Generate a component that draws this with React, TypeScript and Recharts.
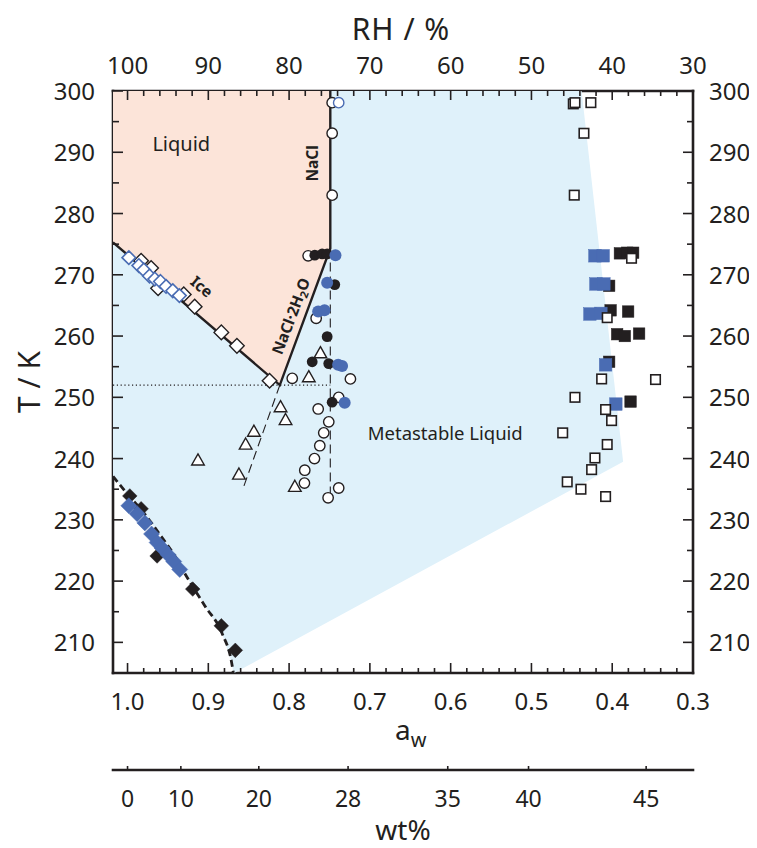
import React from 'react';
import { ComposedChart, Scatter, XAxis, YAxis } from 'recharts';

// ---------- data (a_w, T/K) ----------
const openCircles: [number, number][] = [
  [0.7467, 298.1], [0.7467, 293.1], [0.7467, 283.0], [0.7764, 273.1], [0.7665, 262.9],
  [0.7961, 253.1], [0.7241, 253.0], [0.7386, 250.0], [0.764, 248.1], [0.7509, 246.0],
  [0.7571, 244.2], [0.762, 242.1], [0.7686, 240.0], [0.7806, 238.1], [0.781, 236.0],
  [0.7386, 235.2], [0.7517, 233.6],
];
const openCirclesBlue: [number, number][] = [[0.7386, 298.1]];
const filledCircles: [number, number][] = [
  [0.7682, 273.2], [0.7591, 273.4], [0.7529, 273.4], [0.7435, 268.4], [0.7529, 259.9],
  [0.7714, 255.8], [0.7509, 255.5], [0.7467, 249.2],
];
const filledCirclesBlue: [number, number][] = [
  [0.7426, 273.2], [0.7529, 268.7], [0.764, 264.0], [0.7562, 264.2], [0.7393, 255.3],
  [0.7344, 255.1], [0.7312, 249.1],
];
const openTriangles: [number, number][] = [
  [0.7612, 257.2], [0.7756, 253.3], [0.8106, 248.4], [0.8044, 246.3], [0.8436, 244.4],
  [0.8538, 242.3], [0.8621, 237.4], [0.7929, 235.4], [0.9128, 239.7],
];
const openDiamonds: [number, number][] = [
  [0.9832, 272.3], [0.9708, 271.1], [0.9622, 267.8], [0.9304, 266.8], [0.9169, 264.8],
  [0.8839, 260.6], [0.8646, 258.4], [0.8242, 252.7],
];
const openDiamondsBlue: [number, number][] = [
  [0.9984, 272.8], [0.986, 271.5], [0.9799, 270.8], [0.9728, 269.8], [0.9663, 269.3],
  [0.9592, 268.9], [0.9523, 268.1], [0.944, 267.4], [0.9358, 266.6],
];
const filledDiamonds: [number, number][] = [
  [0.9972, 233.9], [0.9832, 231.8], [0.9634, 224.1], [0.9193, 218.7], [0.8839, 212.7],
  [0.8666, 208.7],
];
const filledDiamondsBlue: [number, number][] = [
  [0.9984, 232.3], [0.9881, 231.0], [0.9786, 229.5], [0.9703, 227.7], [0.9634, 226.3],
  [0.9573, 225.4], [0.9498, 224.3], [0.9428, 223.2], [0.9354, 221.9],
];
const openSquares: [number, number][] = [
  [0.4482, 297.9], [0.4461, 298.1], [0.4264, 298.1], [0.435, 293.1], [0.447, 283.0],
  [0.3761, 272.7], [0.4062, 263.0], [0.4131, 253.0], [0.3464, 252.9], [0.4461, 250.0],
  [0.4082, 248.0], [0.4008, 246.2], [0.4613, 244.2], [0.4062, 242.3], [0.4214, 240.1],
  [0.4255, 238.2], [0.4557, 236.2], [0.4387, 235.0], [0.4082, 233.8],
];
const filledSquares: [number, number][] = [
  [0.3905, 273.5], [0.3815, 273.6], [0.3741, 273.6], [0.4038, 268.2], [0.402, 264.2],
  [0.3803, 264.0], [0.3939, 260.3], [0.3844, 260.0], [0.3667, 260.4], [0.4038, 255.8],
  [0.3773, 249.3],
];
const filledSquaresBlue: [number, number][] = [
  [0.4214, 273.1], [0.4112, 273.1], [0.4202, 268.5], [0.4103, 268.5], [0.4276, 263.6],
  [0.414, 263.7], [0.4082, 255.3], [0.3955, 248.9],
];

// phase boundaries and regions
const liquidRegion: [number, number][] = [
  [1.018, 300], [0.749, 300], [0.749, 274.3], [0.8115, 252.0], [1.018, 275.3],
];
const homFreezing: [number, number][] = [
  [1.018, 237.1], [1.0, 234.2], [0.982, 231.5], [0.96, 227.6], [0.94, 223.8],
  [0.928, 221.0], [0.904, 215.9], [0.883, 211.5], [0.871, 206.6], [0.869, 205],
];
const metastableRegion: [number, number][] = [
  [1.018, 300], [0.4379, 300], [0.3865, 239.5], [0.868, 205],
  ...homFreezing.slice().reverse(),
];
const solidLines: [number, number][] = [
  [1.018, 275.3], [0.8115, 252.0], [0.749, 274.3], [0.749, 300],
];
const eutecticDotted: [number, number][] = [[1.018, 252.0], [0.749, 252.0]];
const naclDashed: [number, number][] = [[0.749, 274.3], [0.749, 234.4]];
const hydrateDashed: [number, number][] = [[0.8115, 252.0], [0.8576, 234.9]];

// annotations (anchor in data units)
const notes = [
  { key: 'liq', text: 'Liquid', aw: 0.9335, T: 291.5 },
  { key: 'nacl', text: 'NaCl', aw: 0.7714, T: 288.2 },
  { key: 'ice', text: 'Ice', aw: 0.9078, T: 268.1 },
  { key: 'hyd', text: 'NaCl·2H₂O', aw: 0.7982, T: 263.3 },
  { key: 'meta', text: 'Metastable Liquid', aw: 0.6067, T: 244.2 },
];

// ticks
const awTicks = Array.from({ length: 36 }, (_, i) => +(1 - i * 0.02).toFixed(2));
const tTicks = Array.from({ length: 20 }, (_, i) => 205 + i * 5);
const wtPositions = [1.0, 0.934, 0.8375, 0.727, 0.6036, 0.5036, 0.358];
const wtLabels = ['0', '10', '20', '28', '35', '40', '45'];

// ---------- styles ----------
const INK = '#231f20';
const BLUE = '#4a6cb3';
const PINK = '#fce4d9';
const SKY = '#dff1fa';
const FONT = '"Noto Sans", "Open Sans", sans-serif';
const TICK_FS = 24;
const AXIS_LINE = { stroke: INK, strokeWidth: 2.6, strokeLinecap: 'square' as const };

const pts = (arr: [number, number][]) => arr.map(([aw, T]) => ({ aw, T }));
const isMajorAw = (v: number) => Math.abs(v * 10 - Math.round(v * 10)) < 1e-6;

// ---------- tick renderers ----------
const BottomTick = (p: any) => {
  const v = p.payload.value;
  const major = isMajorAw(v);
  return (
    <g>
      <line x1={p.x} x2={p.x} y1={p.y} y2={p.y - (major ? 10 : 5)} stroke={INK} strokeWidth={1.6} />
      {major && (
        <text x={p.x} y={p.y + 37} textAnchor="middle" fontSize={TICK_FS} fill={INK} fontFamily={FONT}>
          {v.toFixed(1)}
        </text>
      )}
    </g>
  );
};
const TopTick = (p: any) => {
  const v = p.payload.value;
  const major = isMajorAw(v);
  return (
    <g>
      <line x1={p.x} x2={p.x} y1={p.y} y2={p.y + (major ? 9 : 5)} stroke={INK} strokeWidth={1.6} />
      {major && (
        <text x={p.x} y={p.y - 17} textAnchor="middle" fontSize={TICK_FS} fill={INK} fontFamily={FONT}>
          {Math.round(v * 100)}
        </text>
      )}
    </g>
  );
};
const LeftTick = (p: any) => {
  const v = p.payload.value;
  const major = v % 10 === 0;
  return (
    <g>
      <line x1={p.x} x2={p.x + (major ? 10 : 6)} y1={p.y} y2={p.y} stroke={INK} strokeWidth={1.6} />
      {major && (
        <text x={p.x - 18} y={p.y + 9} textAnchor="end" fontSize={TICK_FS} fill={INK} fontFamily={FONT}>
          {v}
        </text>
      )}
    </g>
  );
};
const RightTick = (p: any) => {
  const v = p.payload.value;
  const major = v % 10 === 0;
  return (
    <g>
      <line x1={p.x} x2={p.x - (major ? 10 : 6)} y1={p.y} y2={p.y} stroke={INK} strokeWidth={1.6} />
      {major && (
        <text x={p.x + 16} y={p.y + 9} textAnchor="start" fontSize={TICK_FS} fill={INK} fontFamily={FONT}>
          {v}
        </text>
      )}
    </g>
  );
};
const WtTick = (p: any) => {
  const v = p.payload.value;
  const idx = wtPositions.findIndex((w) => Math.abs(w - v) < 1e-6);
  return (
    <g>
      <line x1={p.x} x2={p.x} y1={p.y} y2={p.y - 4} stroke={INK} strokeWidth={1.6} />
      <text x={p.x} y={p.y + 37} textAnchor="middle" fontSize={23} fill={INK} fontFamily={FONT}>
        {idx >= 0 ? wtLabels[idx] : ''}
      </text>
    </g>
  );
};

// ---------- axis titles ----------
const vb = (p: any) => p.viewBox || { x: 0, y: 0, width: 0, height: 0 };
const AwTitle = (p: any) => {
  const b = vb(p);
  return (
    <text x={b.x + b.width / 2 - 8} y={b.y + 67} fontSize={28} fill={INK} fontFamily={FONT}>
      a<tspan fontSize={20} dy={7}>w</tspan>
    </text>
  );
};
const WtTitle = (p: any) => {
  const b = vb(p);
  return (
    <text x={b.x + b.width / 2} y={b.y + 70} textAnchor="middle" fontSize={28} fill={INK} fontFamily={FONT}>
      wt%
    </text>
  );
};
const RhTitle = (p: any) => {
  const b = vb(p);
  return (
    <text x={b.x + b.width / 2 - 2} y={b.y - 1} textAnchor="middle" fontSize={30} fill={INK} fontFamily={FONT} letterSpacing={1}>
      RH / %
    </text>
  );
};
const TTitle = (p: any) => {
  const b = vb(p);
  const cx = b.x - 10;
  const cy = b.y + b.height / 2;
  return (
    <text x={cx} y={cy} textAnchor="middle" dominantBaseline="central" fontSize={30} fill={INK} fontFamily={FONT} transform={`rotate(-90 ${cx} ${cy})`}>
      T / K
    </text>
  );
};

// ---------- marker shapes ----------
const hidden = () => <g />;
const polygon = (fill: string) => (lp: any) => {
  const ps = (lp.points || []) as { x: number; y: number }[];
  const d = ps.map((q, i) => `${i ? 'L' : 'M'}${q.x},${q.y}`).join(' ') + ' Z';
  return <path d={d} fill={fill} stroke="none" />;
};
const openCircle = (stroke: string) => (p: any) => (
  <circle cx={p.cx} cy={p.cy} r={5.2} fill="#fff" stroke={stroke} strokeWidth={1.4} />
);
const dot = (fill: string, r: number) => (p: any) => <circle cx={p.cx} cy={p.cy} r={r} fill={fill} />;
const openTriangle = (p: any) => (
  <path
    d={`M${p.cx},${p.cy - 6.5} L${p.cx + 6.3},${p.cy + 4.6} L${p.cx - 6.3},${p.cy + 4.6} Z`}
    fill="#fff"
    stroke={INK}
    strokeWidth={1.4}
  />
);
const square = (fill: string, stroke: string, s: number, sw: number) => (p: any) => (
  <rect x={p.cx - s / 2} y={p.cy - s / 2} width={s} height={s} fill={fill} stroke={stroke} strokeWidth={sw} />
);
const diamond = (fill: string, stroke: string, r: number, sw: number) => (p: any) => (
  <path
    d={`M${p.cx},${p.cy - r} L${p.cx + r},${p.cy} L${p.cx},${p.cy + r} L${p.cx - r},${p.cy} Z`}
    fill={fill}
    stroke={stroke}
    strokeWidth={sw}
  />
);
const noteShape = (key: string, text: string) => (p: any) => {
  const { cx, cy } = p;
  const common = { fill: INK, fontFamily: FONT, textAnchor: 'middle' as const, dominantBaseline: 'central' as const };
  if (key === 'liq') return <text x={cx} y={cy} fontSize={20} {...common}>{text}</text>;
  if (key === 'meta') return <text x={cx} y={cy} fontSize={18.5} {...common}>{text}</text>;
  if (key === 'nacl')
    return (
      <text x={cx} y={cy} fontSize={15.5} fontWeight="bold" transform={`rotate(-90 ${cx} ${cy})`} {...common}>
        {text}
      </text>
    );
  if (key === 'ice')
    return (
      <text x={cx} y={cy} fontSize={15.5} fontWeight="bold" transform={`rotate(40 ${cx} ${cy})`} {...common}>
        {text}
      </text>
    );
  return (
    <text x={cx} y={cy} fontSize={15.5} fontWeight="bold" transform={`rotate(-69 ${cx} ${cy})`} {...common}>
      NaCl·2H<tspan fontSize={11} dy={4}>2</tspan>
      <tspan dy={-4}>O</tspan>
    </text>
  );
};

const ids = { xAxisId: 'aw', yAxisId: 'L' };

export default function App() {
  return (
    <div style={{ width: 749, height: 840, marginBottom: -8 }}>
      <style>{'html,body{overflow:hidden}'}</style>
      <ComposedChart width={749} height={840} margin={{ top: 33, right: 9, bottom: 8, left: 30 }}>
        {/* regions */}
        <Scatter {...ids} data={pts(metastableRegion)} shape={hidden} line={polygon(SKY)} isAnimationActive={false} />
        <Scatter {...ids} data={pts(liquidRegion)} shape={hidden} line={polygon(PINK)} isAnimationActive={false} />
        {/* invisible anchors so the secondary axes get a domain */}
        <Scatter xAxisId="rh" yAxisId="R" data={pts(liquidRegion)} shape={hidden} isAnimationActive={false} />
        <Scatter xAxisId="wt" yAxisId="R" data={pts(liquidRegion)} shape={hidden} isAnimationActive={false} />
        {/* lines */}
        <Scatter {...ids} data={pts(eutecticDotted)} shape={hidden} line={{ stroke: INK, strokeWidth: 1.2, strokeDasharray: '1.2 2.6' }} isAnimationActive={false} />
        <Scatter {...ids} data={pts(naclDashed)} shape={hidden} line={{ stroke: INK, strokeWidth: 1.1, strokeDasharray: '9 5' }} isAnimationActive={false} />
        <Scatter {...ids} data={pts(hydrateDashed)} shape={hidden} line={{ stroke: INK, strokeWidth: 1.1, strokeDasharray: '9 5' }} isAnimationActive={false} />
        <Scatter {...ids} data={pts(homFreezing)} shape={hidden} lineJointType="monotoneX" line={{ stroke: INK, strokeWidth: 2.8, strokeDasharray: '7 4' }} isAnimationActive={false} />
        <Scatter {...ids} data={pts(solidLines)} shape={hidden} line={{ stroke: INK, strokeWidth: 2.4, strokeLinejoin: 'miter' }} isAnimationActive={false} />
        {/* markers */}
        <Scatter {...ids} data={pts(openDiamonds)} shape={diamond('#fff', INK, 7.3, 1.4)} isAnimationActive={false} />
        <Scatter {...ids} data={pts(openDiamondsBlue)} shape={diamond('#fff', BLUE, 6.8, 1.6)} isAnimationActive={false} />
        <Scatter {...ids} data={pts(filledDiamonds)} shape={diamond(INK, INK, 7.3, 0.5)} isAnimationActive={false} />
        <Scatter {...ids} data={pts(filledDiamondsBlue)} shape={diamond(BLUE, BLUE, 8, 0.5)} isAnimationActive={false} />
        <Scatter {...ids} data={pts(openCircles)} shape={openCircle(INK)} isAnimationActive={false} />
        <Scatter {...ids} data={pts(openCirclesBlue)} shape={openCircle(BLUE)} isAnimationActive={false} />
        <Scatter {...ids} data={pts(filledCircles)} shape={dot(INK, 5.4)} isAnimationActive={false} />
        <Scatter {...ids} data={pts(filledCirclesBlue)} shape={dot(BLUE, 6)} isAnimationActive={false} />
        <Scatter {...ids} data={pts(openTriangles)} shape={openTriangle} isAnimationActive={false} />
        <Scatter {...ids} data={pts(filledSquares)} shape={square(INK, INK, 11.5, 0.5)} isAnimationActive={false} />
        <Scatter {...ids} data={pts(filledSquaresBlue)} shape={square(BLUE, BLUE, 12.5, 0.5)} isAnimationActive={false} />
        <Scatter {...ids} data={pts(openSquares)} shape={square('#fff', INK, 9.5, 1.6)} isAnimationActive={false} />
        {/* annotations */}
        {notes.map((n) => (
          <Scatter key={n.key} {...ids} data={[{ aw: n.aw, T: n.T }]} shape={noteShape(n.key, n.text)} isAnimationActive={false} />
        ))}

        {/* axes */}
        <XAxis
          xAxisId="aw" dataKey="aw" type="number" orientation="bottom" height={97} reversed
          domain={[0.3, 1.018]} allowDataOverflow ticks={awTicks} interval={0}
          tickSize={0} tickMargin={0} tickLine={false} tick={BottomTick} axisLine={AXIS_LINE}
          label={AwTitle}
        />
        <XAxis
          xAxisId="wt" dataKey="aw" type="number" orientation="bottom" height={70} reversed
          domain={[0.3, 1.018]} allowDataOverflow ticks={wtPositions} interval={0}
          tickSize={0} tickMargin={0} tickLine={false} tick={WtTick} axisLine={AXIS_LINE}
          label={WtTitle}
        />
        <XAxis
          xAxisId="rh" dataKey="aw" type="number" orientation="top" height={50} reversed
          domain={[0.3, 1.018]} allowDataOverflow ticks={awTicks} interval={0}
          tickSize={0} tickMargin={0} tickLine={false} tick={TopTick} axisLine={AXIS_LINE}
          label={RhTitle}
        />
        <YAxis
          yAxisId="L" dataKey="T" type="number" orientation="left" width={75}
          domain={[205, 300]} allowDataOverflow ticks={tTicks} interval={0}
          tickSize={0} tickMargin={0} tickLine={false} tick={LeftTick} axisLine={AXIS_LINE}
          label={TTitle}
        />
        <YAxis
          yAxisId="R" dataKey="T" type="number" orientation="right" width={55}
          domain={[205, 300]} allowDataOverflow ticks={tTicks} interval={0}
          tickSize={0} tickMargin={0} tickLine={false} tick={RightTick} axisLine={AXIS_LINE}
        />
      </ComposedChart>
    </div>
  );
}
